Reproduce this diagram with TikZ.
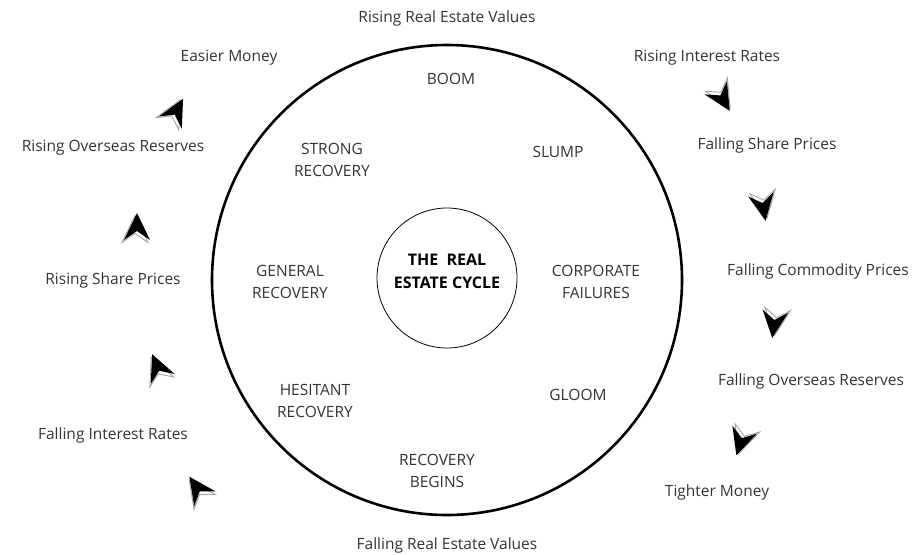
\documentclass[tikz,border=0pt]{standalone}
\usepackage{fontspec}
\setmainfont{Open Sans}
\definecolor{txtgray}{HTML}{333333}

\tikzset{
  lbl/.style={font=\fontsize{15.5}{22}\selectfont, text=txtgray, align=center, inner sep=0pt},
  stage/.style={lbl},
  title/.style={lbl, font=\fontsize{16}{23}\selectfont\bfseries, text=black},
  cursor/.pic={
    \filldraw[white, draw=gray!70, line width=0.9pt, shift={(-2.5,-2)}] (15,0) -- (-12,13) -- (-3,0) -- (-12,-13) -- cycle;
    \fill[black] (15,0) -- (-12,13) -- (-3,0) -- (-12,-13) -- cycle;
  }
}

\begin{document}
\begin{tikzpicture}[x=1pt, y=-1pt]
\useasboundingbox (0,0) rectangle (923,554);

% the two circles
\draw[line width=2.6pt] (447,280) circle (235);
\node[draw, circle, line width=0.8pt, minimum size=140pt, inner sep=0pt] (hub) at (447,278) {};
\node[title] (hubtext) at (447,271) {THE\ \ REAL\\ESTATE CYCLE};

% stages inside
\node[stage] (boom) at (451,79) {BOOM};
\node[stage] (slump) at (558,152) {SLUMP};
\node[stage] (strong) at (332,160) {STRONG\\RECOVERY};
\node[stage] (general) at (290,282) {GENERAL\\RECOVERY};
\node[stage] (corp) at (596,282) {CORPORATE\\FAILURES};
\node[stage] (hesitant) at (315,401) {HESITANT\\RECOVERY};
\node[stage] (gloom) at (578,395) {GLOOM};
\node[stage] (begins) at (437,471) {RECOVERY\\BEGINS};

% outside labels
\node[lbl] (risingvalues) at (447,18) {Rising Real Estate Values};
\node[lbl] (easier) at (229,58) {Easier Money};
\node[lbl] (risingrates) at (707,58) {Rising Interest Rates};
\node[lbl] (risingres) at (113,148) {Rising Overseas Reserves};
\node[lbl] (fallingshare) at (767,145) {Falling Share Prices};
\node[lbl] (risingshare) at (113,280) {Rising Share Prices};
\node[lbl] (fallingcomm) at (818,271) {Falling Commodity Prices};
\node[lbl] (fallingres) at (811,381) {Falling Overseas Reserves};
\node[lbl] (fallingrates) at (113,435) {Falling Interest Rates};
\node[lbl] (tighter) at (717,492) {Tighter Money};
\node[lbl] (fallingvalues) at (447,545) {Falling Real Estate Values};

% cursor arrows, clockwise
\pic[rotate=62] at (176,112) {cursor};
\pic[rotate=90] at (137,228) {cursor};
\pic[rotate=113] at (158,368) {cursor};
\pic[rotate=125] at (198,489) {cursor};
\pic[rotate=-59] at (722,98) {cursor};
\pic[rotate=-80] at (763,206) {cursor};
\pic[rotate=-97] at (774,323) {cursor};
\pic[rotate=-108] at (741,441) {cursor};
\end{tikzpicture}
\end{document}
